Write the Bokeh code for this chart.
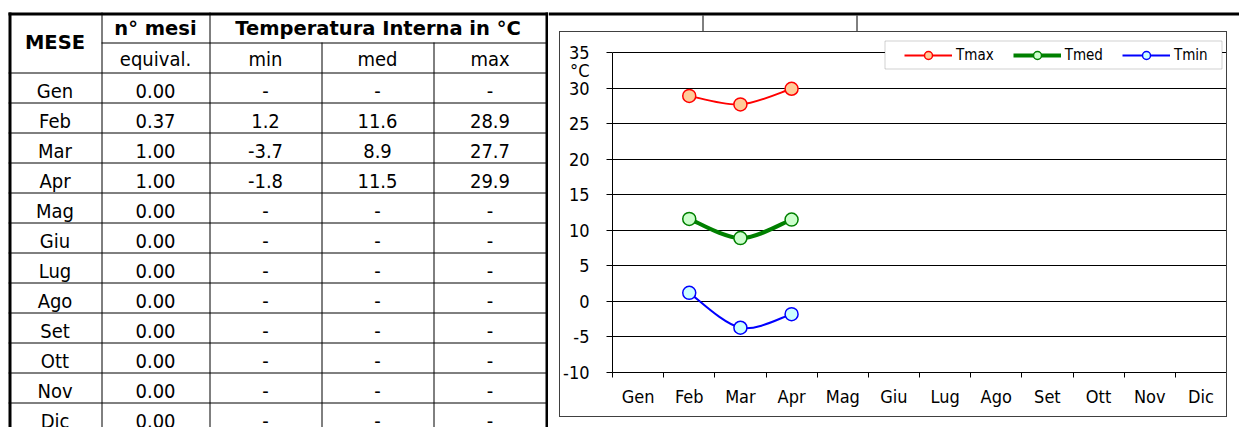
from bokeh.plotting import figure
from bokeh.layouts import row, column
from bokeh.models import (Range1d, FixedTicker, BoxAnnotation, Legend, LegendItem,
                          ColumnDataSource, Spacer)
from bokeh.embed import file_html
from bokeh.resources import INLINE
from bokeh.core.properties import value

# ---------------- data ----------------
months = ["Gen", "Feb", "Mar", "Apr", "Mag", "Giu", "Lug", "Ago", "Set", "Ott", "Nov", "Dic"]
n_mesi_equiv = [0.00, 0.37, 1.00, 1.00, 0.00, 0.00, 0.00, 0.00, 0.00, 0.00, 0.00, 0.00]
t_min = [None, 1.2, -3.7, -1.8, None, None, None, None, None, None, None, None]
t_med = [None, 11.6, 8.9, 11.5, None, None, None, None, None, None, None, None]
t_max = [None, 28.9, 27.7, 29.9, None, None, None, None, None, None, None, None]
header_main = ["MESE", "n° mesi", "Temperatura Interna in °C"]
header_sub = ["equival.", "min", "med", "max"]
y_ticks = [-10, -5, 0, 5, 10, 15, 20, 25, 30, 35]
series_labels = ["Tmax", "Tmed", "Tmin"]
unit_label = "°C"

# ---------------- layout / style ----------------
FONT = "DejaVu Sans Condensed"
FONT_B = "DejaVu Sans"
PAGE_H = 427
TW = 548
RW = 1239 - TW
col_edges = [8, 101, 209, 321, 433, 546]
top_y = 12
hdr1_bottom = 42
hdr2_bottom = 72
row_h = 30
TXT_SHIFT = 7   # baseline correction

# ================= TABLE =================
tab = figure(width=TW, height=PAGE_H, x_range=Range1d(0, TW), y_range=Range1d(PAGE_H, 0),
             output_backend="svg", toolbar_location=None, min_border=0,
             x_axis_location=None, y_axis_location=None, outline_line_color=None)
tab.frame_align = False
tab.xgrid.visible = False
tab.ygrid.visible = False


def fmt1(v):
    return "-" if v is None else f"{v:.1f}"


col_c = [(col_edges[i] + col_edges[i + 1]) / 2 for i in range(5)]

bx, by, bt = [], [], []
for k, m in enumerate(months):
    base = hdr2_bottom + row_h * (k + 1) - 5 - TXT_SHIFT
    cells = [m, f"{n_mesi_equiv[k]:.2f}", fmt1(t_min[k]), fmt1(t_med[k]), fmt1(t_max[k])]
    for c, txt in enumerate(cells):
        bx.append(col_c[c]); by.append(base); bt.append(txt)
tab.text(x="x", y="y", text="t", source=ColumnDataSource(dict(x=bx, y=by, t=bt)),
         text_font=value(FONT), text_font_size="20px", text_align="center",
         text_baseline="alphabetic", text_color="#000")

sx = [col_c[1], col_c[2], col_c[3], col_c[4]]
sy = [hdr2_bottom - 7 - TXT_SHIFT] * 4
tab.text(x=sx, y=sy, text=header_sub, text_font=value(FONT), text_font_size="20px",
         text_align="center", text_baseline="alphabetic", text_color="#000")

hx = [col_c[0], col_c[1], (col_edges[2] + col_edges[5]) / 2]
hy = [(top_y + hdr2_bottom) / 2 + 7 - TXT_SHIFT, hdr1_bottom - 7 - TXT_SHIFT, hdr1_bottom - 7 - TXT_SHIFT]
tab.text(x=hx, y=hy, text=header_main, text_font=value(FONT_B), text_font_style="bold",
         text_font_size="19.5px", text_align="center", text_baseline="alphabetic",
         text_color="#000")

sx0, sy0, sx1, sy1 = [], [], [], []
for xe in (col_edges[1], col_edges[2]):
    sx0.append(xe + 0.5); sx1.append(xe + 0.5); sy0.append(top_y); sy1.append(PAGE_H)
for xe in (col_edges[3], col_edges[4]):
    sx0.append(xe + 0.5); sx1.append(xe + 0.5); sy0.append(hdr1_bottom); sy1.append(PAGE_H)
sx0.append(col_edges[1]); sx1.append(col_edges[5]); sy0.append(hdr1_bottom + 0.5); sy1.append(hdr1_bottom + 0.5)
for k in range(len(months)):
    yy = hdr2_bottom + row_h * k + 0.5
    sx0.append(col_edges[0]); sx1.append(col_edges[5]); sy0.append(yy); sy1.append(yy)
tab.segment(x0=sx0, y0=sy0, x1=sx1, y1=sy1, line_color="#000", line_width=1)

tab.segment(x0=[col_edges[0] + 1.5, col_edges[0], col_edges[5] + 0.5],
            y0=[top_y, top_y + 1.5, top_y],
            x1=[col_edges[0] + 1.5, TW, col_edges[5] + 0.5],
            y1=[PAGE_H, top_y + 1.5, PAGE_H],
            line_color="#000", line_width=3)

# ================= TOP STRIP (sheet border above the chart) =================
STRIP_H = 31
strip = figure(width=RW, height=STRIP_H, x_range=Range1d(TW, TW + RW), y_range=Range1d(STRIP_H, 0),
               output_backend="svg", toolbar_location=None, min_border=0,
               x_axis_location=None, y_axis_location=None, outline_line_color=None)
strip.frame_align = False
strip.xgrid.visible = False
strip.ygrid.visible = False
strip.segment(x0=[TW], y0=[top_y + 1.5], x1=[TW + RW], y1=[top_y + 1.5], line_color="#000", line_width=3)
strip.segment(x0=[702.5, 856.5], y0=[top_y + 3, top_y + 3], x1=[702.5, 856.5], y1=[STRIP_H, STRIP_H],
              line_color="#000", line_width=1)

# ================= CHART =================
BOX_LEFT = 559          # page x of chart box border
CH_W, CH_H = 666, 384   # inner canvas of the chart box
FR_LEFT, FR_TOP_EXTRA = 48, 7
plot_top_px = 52 - 32   # 35-line below canvas top
px_per_y = 320 / (y_ticks[-1] - y_ticks[0])
y_end = y_ticks[-1] + (plot_top_px - FR_TOP_EXTRA) / px_per_y

ch = figure(width=CH_W, height=CH_H, x_range=Range1d(0.5, 12.5),
            y_range=Range1d(y_ticks[0], y_end),
            output_backend="svg", toolbar_location=None,
            min_border_left=FR_LEFT, min_border_right=0, min_border_top=FR_TOP_EXTRA,
            min_border_bottom=44, outline_line_color=None)
ch.frame_align = False

unit_pos = 32.4
ya = ch.yaxis[0]
ya.bounds = (y_ticks[0], y_ticks[-1])
ya.ticker = FixedTicker(ticks=y_ticks + [unit_pos], minor_ticks=y_ticks)
overrides = {t: str(t) for t in y_ticks}
overrides[unit_pos] = unit_label
ya.major_label_overrides = overrides
ya.major_tick_out = 0
ya.major_tick_in = 0
ya.minor_tick_out = 6
ya.minor_tick_in = 0
ya.minor_tick_line_color = "#000"
ya.axis_line_color = "#000"
ya.major_label_standoff = 17
ya.major_label_text_font = FONT
ya.major_label_text_font_size = "18px"
ya.major_label_text_color = "#000"

xpos = list(range(1, len(months) + 1))
xa = ch.xaxis[0]
xa.ticker = FixedTicker(ticks=xpos, minor_ticks=[p - 0.5 for p in xpos] + [xpos[-1] + 0.5])
xa.major_label_overrides = {p: m for p, m in zip(xpos, months)}
xa.major_tick_out = 0
xa.major_tick_in = 0
xa.minor_tick_out = 5
xa.minor_tick_in = 0
xa.minor_tick_line_color = "#000"
xa.axis_line_color = "#000"
xa.major_label_standoff = 8
xa.major_label_text_font = FONT
xa.major_label_text_font_size = "18px"
xa.major_label_text_color = "#000"

ch.xgrid.visible = False
ch.ygrid.ticker = FixedTicker(ticks=y_ticks)
ch.ygrid.grid_line_color = "#000"
ch.ygrid.grid_line_alpha = 1


def smooth(xs, ys):
    d = {k: [] for k in ("x0", "y0", "x1", "y1", "cx0", "cy0", "cx1", "cy1")}
    n = len(xs)
    for i in range(n - 1):
        xp, yp = (xs[i - 1], ys[i - 1]) if i > 0 else (xs[i], ys[i])
        xn, yn = (xs[i + 2], ys[i + 2]) if i + 2 < n else (xs[i + 1], ys[i + 1])
        d["x0"].append(xs[i]); d["y0"].append(ys[i])
        d["x1"].append(xs[i + 1]); d["y1"].append(ys[i + 1])
        d["cx0"].append(xs[i] + (xs[i + 1] - xp) / 6); d["cy0"].append(ys[i] + (ys[i + 1] - yp) / 6)
        d["cx1"].append(xs[i + 1] - (xn - xs[i]) / 6); d["cy1"].append(ys[i + 1] - (yn - ys[i]) / 6)
    return d


series = [
    (series_labels[0], t_max, "#FF0000", 2, "#FFCC99"),
    (series_labels[1], t_med, "#008000", 4, "#CCFFCC"),
    (series_labels[2], t_min, "#0000FF", 2, "#CCFFFF"),
]
items = []
for lab, vals, col, lw, fill in series:
    xs = [xpos[i] for i, v in enumerate(vals) if v is not None]
    ys = [v for v in vals if v is not None]
    bz = ch.bezier(x0="x0", y0="y0", x1="x1", y1="y1", cx0="cx0", cy0="cy0", cx1="cx1", cy1="cy1",
                   source=ColumnDataSource(smooth(xs, ys)), line_color=col, line_width=lw)
    sc = ch.scatter(xs, ys, size=13, marker="circle", fill_color=fill, line_color=col, line_width=1.5)
    items.append(LegendItem(label=lab, renderers=[bz, sc]))

# legend box (page 884..1221 x 40..68)
ox, oy = BOX_LEFT + 1, 32
ch.add_layout(BoxAnnotation(left=884.5 - ox, right=1221.5 - ox, top=40.5 - oy, bottom=68.5 - oy,
                            left_units="canvas", right_units="canvas", top_units="canvas",
                            bottom_units="canvas", fill_color="#fff", fill_alpha=1,
                            line_color="#666", line_width=1))
leg = Legend(items=items, orientation="horizontal", location=(900 - 608, 372 - 65),
             glyph_width=48, glyph_height=20, label_standoff=4, spacing=19, padding=4, margin=0,
             label_text_font=FONT, label_text_font_size="15px", label_text_color="#000",
             border_line_color=None, background_fill_alpha=0)
ch.add_layout(leg)

chart_box = column(ch, styles={"border": "1px solid #404040"})
right = column(strip, row(Spacer(width=BOX_LEFT - TW, height=1), chart_box))
layout = row(tab, right)
open("out.html", "w").write(file_html(layout, INLINE))
